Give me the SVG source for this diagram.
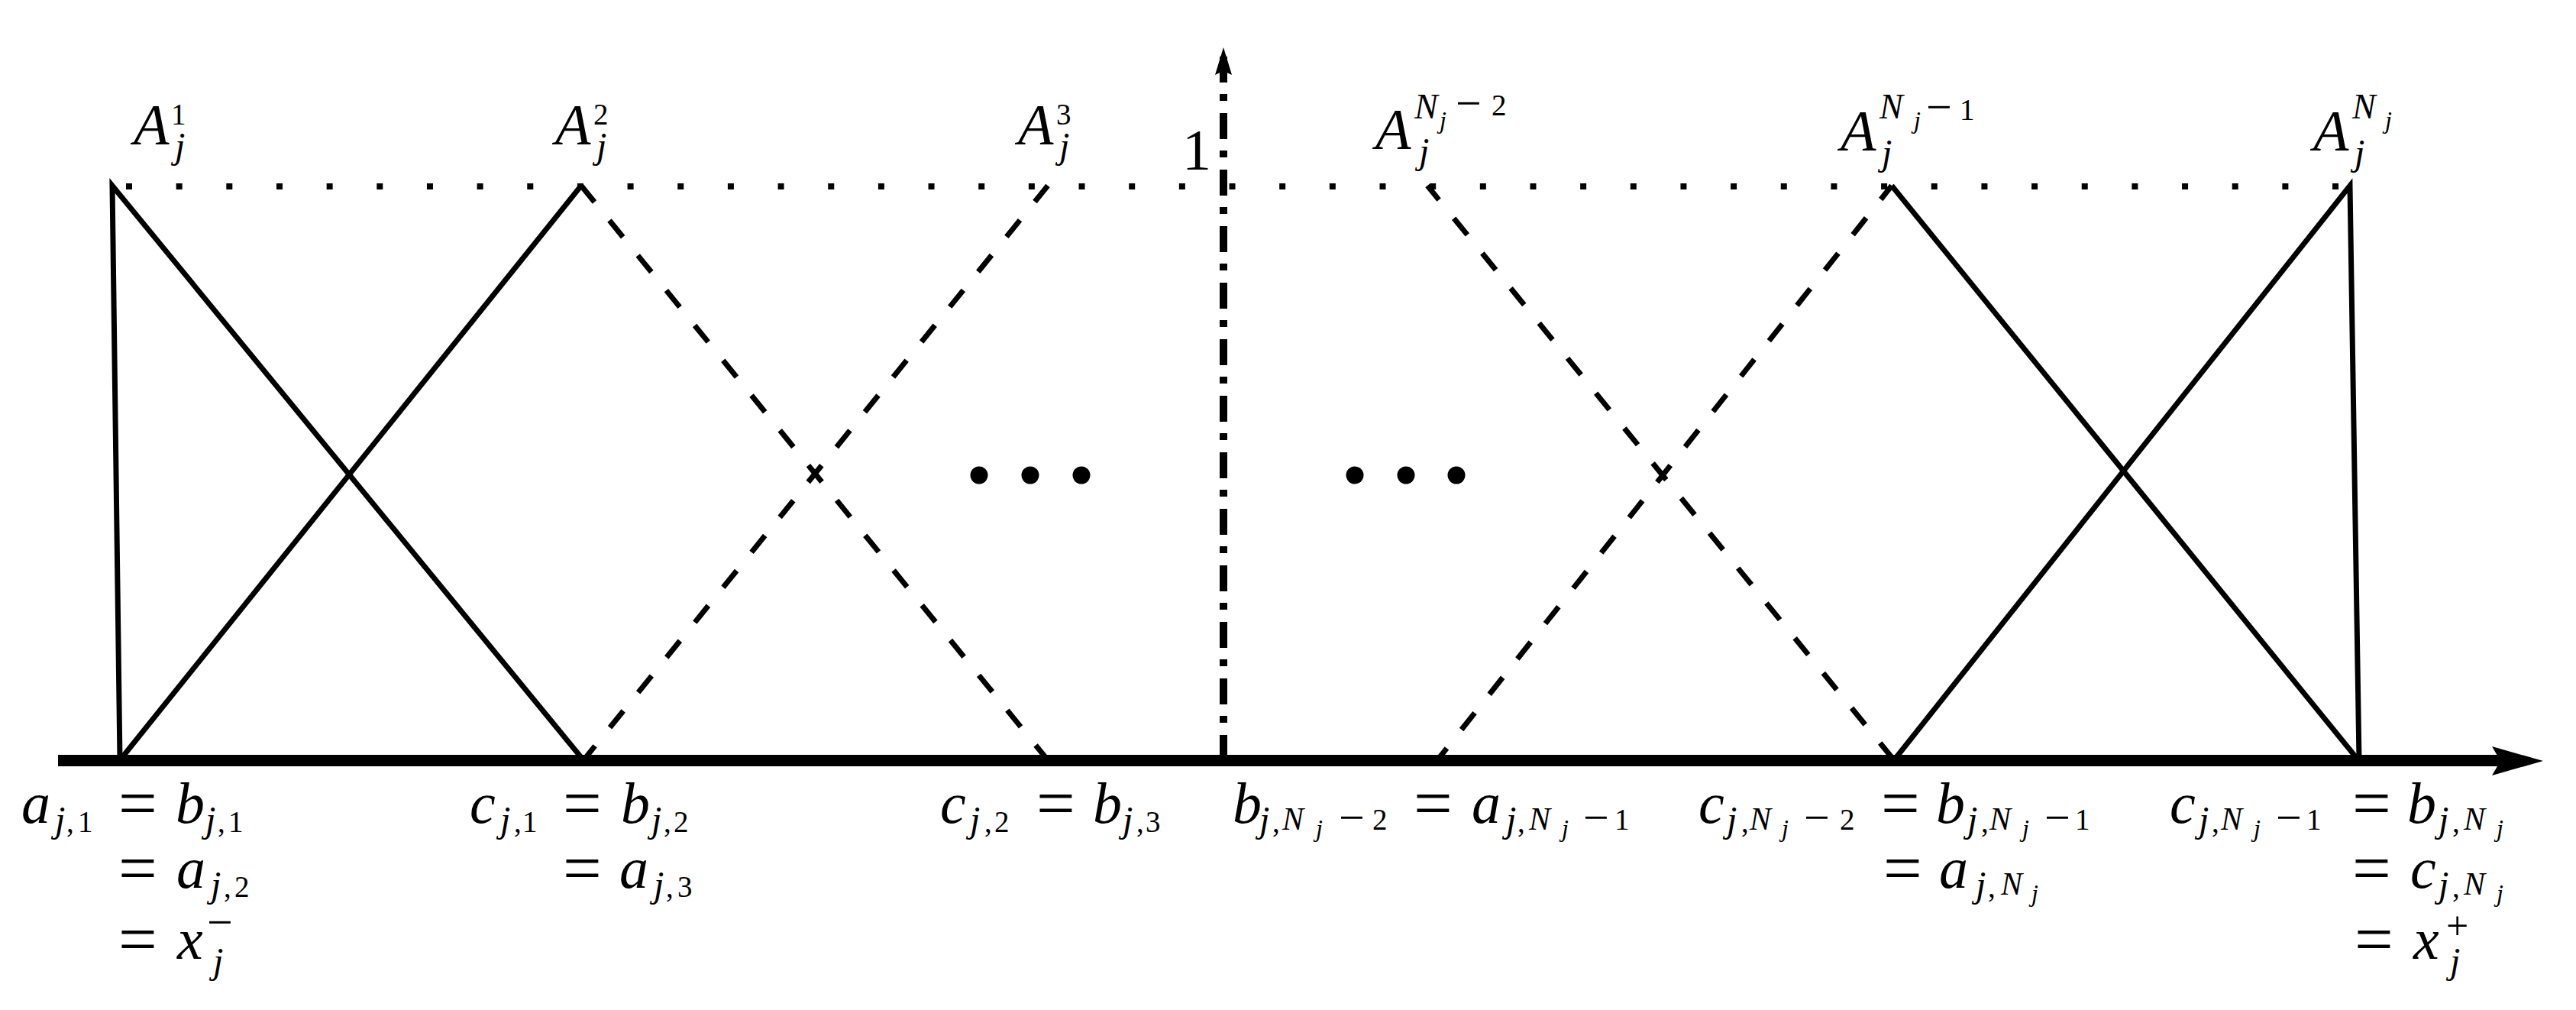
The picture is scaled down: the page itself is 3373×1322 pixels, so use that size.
<svg xmlns="http://www.w3.org/2000/svg" width="3373" height="1322" viewBox="0 0 3373 1322">
<style>
.t{font-family:"Liberation Serif","Times New Roman",serif;fill:#000}
.i{font-style:italic;font-size:76px}
.r{font-size:76px}
.eq{font-size:90px}
.s{font-style:italic;font-size:48px}
.sn{font-style:italic;font-size:42px}
.tn{font-style:italic;font-size:46px}
.sd{font-size:39px}
.sm{font-size:60px}
.ss{font-style:italic;font-size:32px}
.ln{stroke:#000;stroke-width:7;fill:none;stroke-linejoin:miter;stroke-miterlimit:20}
.dash{stroke-dasharray:28 31}
</style>
<rect width="3373" height="1322" fill="#fff"/>
<g id="axes">
  <line x1="76" y1="995.5" x2="3276" y2="995.5" stroke="#000" stroke-width="15"/>
  <path d="M3330,996 L3263,977 L3274,996 L3263,1015 Z" fill="#000"/>
  <line x1="1602" y1="74" x2="1602" y2="995" stroke="#000" stroke-width="10" stroke-dasharray="34 15 9 16"/>
  <path d="M1602,62 L1613,98 L1602,93 L1591,98 Z" fill="#000"/>
  <line id="level-one" x1="165" y1="244" x2="3063" y2="244" stroke="#000" stroke-width="8" stroke-dasharray="8 57.66"/>
  <text class="t r" x="1548" y="222">1</text>
</g>
<g id="ellipsis">
  <circle cx="1282" cy="622" r="11.5"/><circle cx="1349" cy="622" r="11.5"/><circle cx="1416" cy="622" r="11.5"/>
  <circle cx="1774" cy="622" r="11.5"/><circle cx="1841" cy="622" r="11.5"/><circle cx="1907" cy="622" r="11.5"/>
</g>
<g id="connectors">
  <polyline class="ln" points="157,995 147,243 764,995"/>
  <line class="ln" x1="157" y1="995" x2="761" y2="243"/>
  <line class="ln dash" x1="761" y1="243" x2="1372" y2="995" stroke-dashoffset="0.3"/>
  <line class="ln dash" x1="764" y1="995" x2="1372" y2="243" stroke-dashoffset="4"/>
  <line class="ln dash" x1="1869" y1="243" x2="2480" y2="995" stroke-dashoffset="4"/>
  <line class="ln dash" x1="1882" y1="995" x2="2477" y2="243" stroke-dashoffset="8"/>
  <line class="ln" x1="2477" y1="243" x2="3088" y2="995"/>
  <polyline class="ln" points="2480,995 3077,243 3089,995"/>
</g>
<g id="A1"><text class="t"><tspan class="i" x="175" y="189">A</tspan><tspan class="sd" x="224" y="163">1</tspan><tspan class="s" x="229" y="207">j</tspan></text></g>
<g id="A2"><text class="t"><tspan class="i" x="727" y="189">A</tspan><tspan class="sd" x="777" y="163">2</tspan><tspan class="s" x="781" y="207">j</tspan></text></g>
<g id="A3"><text class="t"><tspan class="i" x="1333" y="189">A</tspan><tspan class="sd" x="1383" y="163">3</tspan><tspan class="s" x="1387" y="207">j</tspan></text></g>
<g id="ANm2"><text class="t"><tspan class="i" x="1801" y="195">A</tspan><tspan class="tn" x="1852" y="155">N</tspan><tspan class="ss" x="1885" y="168">j</tspan><tspan class="sm" x="1906" y="155">−</tspan><tspan class="sd" x="1953" y="151">2</tspan><tspan class="s" x="1858" y="214">j</tspan></text></g>
<g id="ANm1"><text class="t"><tspan class="i" x="2410" y="197">A</tspan><tspan class="tn" x="2461" y="155">N</tspan><tspan class="ss" x="2506" y="168">j</tspan><tspan class="sm" x="2522" y="160">−</tspan><tspan class="sd" x="2566" y="157">1</tspan><tspan class="s" x="2464" y="216">j</tspan></text></g>
<g id="AN"><text class="t"><tspan class="i" x="3029" y="197">A</tspan><tspan class="tn" x="3080" y="155">N</tspan><tspan class="ss" x="3123" y="168">j</tspan><tspan class="s" x="3083" y="216">j</tspan></text></g>

<g id="label-x-minus"><text class="t">
  <tspan class="i" x="28" y="1077">a</tspan><tspan class="s" x="72" y="1089">j</tspan><tspan class="sd" x="87" y="1089">,</tspan><tspan class="sd" x="102" y="1089">1</tspan>
  <tspan class="eq" x="155" y="1082">=</tspan>
  <tspan class="i" x="230" y="1077">b</tspan><tspan class="s" x="269" y="1089">j</tspan><tspan class="sd" x="285" y="1089">,</tspan><tspan class="sd" x="299" y="1089">1</tspan>
  <tspan class="eq" x="155" y="1167">=</tspan>
  <tspan class="i" x="231" y="1162">a</tspan><tspan class="s" x="276" y="1174">j</tspan><tspan class="sd" x="293" y="1174">,</tspan><tspan class="sd" x="307" y="1174">2</tspan>
  <tspan class="eq" x="155" y="1260">=</tspan>
  <tspan class="i" x="232" y="1255">x</tspan><tspan class="sm" x="271" y="1227">−</tspan><tspan class="s" x="279" y="1274">j</tspan>
</text></g>
<g id="label-c1"><text class="t">
  <tspan class="i" x="615" y="1077">c</tspan><tspan class="s" x="655" y="1089">j</tspan><tspan class="sd" x="673" y="1089">,</tspan><tspan class="sd" x="684" y="1089">1</tspan>
  <tspan class="eq" x="737" y="1082">=</tspan>
  <tspan class="i" x="813" y="1077">b</tspan><tspan class="s" x="853" y="1089">j</tspan><tspan class="sd" x="869" y="1089">,</tspan><tspan class="sd" x="882" y="1089">2</tspan>
  <tspan class="eq" x="737" y="1167">=</tspan>
  <tspan class="i" x="811" y="1162">a</tspan><tspan class="s" x="856" y="1174">j</tspan><tspan class="sd" x="872" y="1174">,</tspan><tspan class="sd" x="887" y="1174">3</tspan>
</text></g>
<g id="label-c2"><text class="t">
  <tspan class="i" x="1231" y="1077">c</tspan><tspan class="s" x="1270" y="1089">j</tspan><tspan class="sd" x="1289" y="1089">,</tspan><tspan class="sd" x="1302" y="1089">2</tspan>
  <tspan class="eq" x="1357" y="1082">=</tspan>
  <tspan class="i" x="1431" y="1077">b</tspan><tspan class="s" x="1470" y="1089">j</tspan><tspan class="sd" x="1488" y="1089">,</tspan><tspan class="sd" x="1500" y="1089">3</tspan>
</text></g>
<g id="label-bNm2"><text class="t">
  <tspan class="i" x="1614" y="1077">b</tspan><tspan class="s" x="1649" y="1089">j</tspan><tspan class="sd" x="1666" y="1089">,</tspan><tspan class="sn" x="1679" y="1086">N</tspan><tspan class="ss" x="1723" y="1095">j</tspan><tspan class="sm" x="1753" y="1090">−</tspan><tspan class="sd" x="1797" y="1086">2</tspan>
  <tspan class="eq" x="1851" y="1082">=</tspan>
  <tspan class="i" x="1927" y="1077">a</tspan><tspan class="s" x="1972" y="1089">j</tspan><tspan class="sd" x="1987" y="1089">,</tspan><tspan class="sn" x="2002" y="1086">N</tspan><tspan class="ss" x="2045" y="1095">j</tspan><tspan class="sm" x="2073" y="1090">−</tspan><tspan class="sd" x="2114" y="1086">1</tspan>
</text></g>
<g id="label-cNm2"><text class="t">
  <tspan class="i" x="2224" y="1077">c</tspan><tspan class="s" x="2261" y="1089">j</tspan><tspan class="sd" x="2280" y="1089">,</tspan><tspan class="sn" x="2291" y="1086">N</tspan><tspan class="ss" x="2333" y="1095">j</tspan><tspan class="sm" x="2362" y="1090">−</tspan><tspan class="sd" x="2409" y="1086">2</tspan>
  <tspan class="eq" x="2463" y="1082">=</tspan>
  <tspan class="i" x="2535" y="1077">b</tspan><tspan class="s" x="2576" y="1089">j</tspan><tspan class="sd" x="2594" y="1089">,</tspan><tspan class="sn" x="2605" y="1086">N</tspan><tspan class="ss" x="2648" y="1095">j</tspan><tspan class="sm" x="2677" y="1090">−</tspan><tspan class="sd" x="2717" y="1086">1</tspan>
  <tspan class="eq" x="2466" y="1167">=</tspan>
  <tspan class="i" x="2539" y="1162">a</tspan><tspan class="s" x="2587" y="1174">j</tspan><tspan class="sd" x="2603" y="1174">,</tspan><tspan class="sn" x="2620" y="1171">N</tspan><tspan class="ss" x="2660" y="1180">j</tspan>
</text></g>
<g id="label-x-plus"><text class="t">
  <tspan class="i" x="2841" y="1077">c</tspan><tspan class="s" x="2879" y="1089">j</tspan><tspan class="sd" x="2896" y="1089">,</tspan><tspan class="sn" x="2908" y="1086">N</tspan><tspan class="ss" x="2951" y="1095">j</tspan><tspan class="sm" x="2980" y="1090">−</tspan><tspan class="sd" x="3020" y="1086">1</tspan>
  <tspan class="eq" x="3080" y="1082">=</tspan>
  <tspan class="i" x="3152" y="1077">b</tspan><tspan class="s" x="3193" y="1089">j</tspan><tspan class="sd" x="3211" y="1089">,</tspan><tspan class="sn" x="3226" y="1086">N</tspan><tspan class="ss" x="3269" y="1095">j</tspan>
  <tspan class="eq" x="3080" y="1167">=</tspan>
  <tspan class="i" x="3156" y="1162">c</tspan><tspan class="s" x="3193" y="1174">j</tspan><tspan class="sd" x="3211" y="1174">,</tspan><tspan class="sn" x="3226" y="1171">N</tspan><tspan class="ss" x="3269" y="1180">j</tspan>
  <tspan class="eq" x="3083" y="1260">=</tspan>
  <tspan class="i" x="3160" y="1255">x</tspan><tspan class="sd" style="font-size:52px" x="3203" y="1229">+</tspan><tspan class="s" x="3208" y="1274">j</tspan>
</text></g>
</svg>
